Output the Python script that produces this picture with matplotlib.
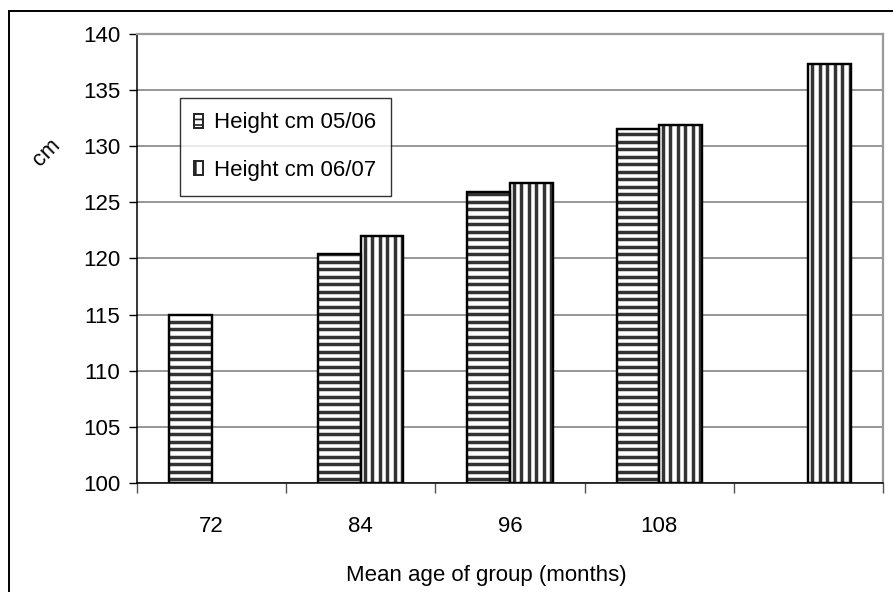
import numpy as np
import matplotlib
matplotlib.use('Agg')
import matplotlib.pyplot as plt
from matplotlib.collections import LineCollection
from matplotlib.patches import Patch, Rectangle

# Mean height per age group, two school years
ages = ['72', '84', '96', '108', '']
height_0506 = np.array([115.0, 120.4, 125.9, 131.5, np.nan])
height_0607 = np.array([np.nan, 122.0, 126.7, 131.9, 137.3])
series_labels = ['Height cm 05/06', 'Height cm 06/07']
y_ticks = np.arange(100, 141, 5)

W, H, DPI = 893, 592, 100
STRIPE_PX = 7.5          # stripe period in pixels
STRIPE_LW = 2.5          # dark stripe width in points
STRIPE_COLOR = '#333333'


def fx(px):
    return px / W


def fy(py):
    return 1 - py / H


plt.rcParams['font.family'] = ['Liberation Sans Narrow', 'Liberation Sans', 'DejaVu Sans']
plt.rcParams['hatch.linewidth'] = 1.2
FS = 16

fig = plt.figure(figsize=(W / DPI, H / DPI), dpi=DPI)
ax_left, ax_right, ax_top, ax_bottom = 137, 883, 33.7, 483
ax = fig.add_axes([fx(ax_left), fy(ax_bottom), fx(ax_right) - fx(ax_left), fy(ax_top) - fy(ax_bottom)])

x = np.arange(len(ages))
bw = 1 / 3.5
base = y_ticks[0]
ax.set_xlim(-0.5, len(ages) - 0.5)
ax.set_ylim(y_ticks[0], y_ticks[-1])

# data units per pixel, for the stripe spacing
dx_px = (len(ages)) / (ax_right - ax_left)
dy_px = (y_ticks[-1] - y_ticks[0]) / (ax_bottom - ax_top)


def striped_bars(xpos, vals, direction):
    ok = ~np.isnan(vals)
    bars = ax.bar(xpos[ok], vals[ok] - base, bottom=base, width=bw, align='edge',
                  color='white', edgecolor='black', linewidth=1.6, zorder=2)
    for b in bars:
        x0, y0 = b.get_x(), b.get_y()
        x1, y1 = x0 + b.get_width(), y0 + b.get_height()
        if direction == 'h':
            step = STRIPE_PX * dy_px
            ys = np.arange(y0 + step * 0.5, y1, step)
            segs = [[(x0, yy), (x1, yy)] for yy in ys]
        else:
            step = STRIPE_PX * dx_px
            xs = np.arange(x0 + step * 0.5, x1, step)
            segs = [[(xx, y0), (xx, y1)] for xx in xs]
        lc = LineCollection(segs, colors=STRIPE_COLOR, linewidths=STRIPE_LW, zorder=2.5)
        ax.add_collection(lc)
        lc.set_clip_path(b)
        # redraw the outline on top of the stripes
        ax.add_patch(Rectangle((x0, y0), x1 - x0, y1 - y0, fill=False,
                               edgecolor='black', linewidth=1.6, zorder=3))


striped_bars(x - bw, height_0506, 'h')
striped_bars(x, height_0607, 'v')

ax.set_yticks(y_ticks)
ax.tick_params(axis='y', direction='out', length=6, width=1, pad=6, labelsize=FS)
ax.yaxis.grid(True, color='#7a7a7a', linewidth=1.1)
ax.set_axisbelow(True)

ax.set_xticks(np.arange(-0.5, len(ages)), labels=[''] * (len(ages) + 1))
ax.set_xticks(x, labels=ages, minor=True)
ax.tick_params(axis='x', which='major', direction='out', length=7, width=1, color='#555555')
ax.tick_params(axis='x', which='minor', length=0, pad=24, labelsize=FS)

for side in ('left', 'bottom'):
    ax.spines[side].set_color('black')
    ax.spines[side].set_linewidth(1.1)
for side in ('top', 'right'):
    ax.spines[side].set_color('#9a9a9a')
    ax.spines[side].set_linewidth(1.6)

handles = [Patch(facecolor='white', edgecolor='#222222', hatch='---', linewidth=1.4),
           Patch(facecolor='white', edgecolor='#222222', hatch='||', linewidth=1.4)]
leg = ax.legend(handles, series_labels, loc='upper left',
                bbox_to_anchor=(fx(180), fy(98)), bbox_transform=fig.transFigure,
                fontsize=FS, frameon=True, fancybox=False, shadow=False,
                borderaxespad=0, borderpad=0.65, labelspacing=1.2,
                handlelength=0.4, handleheight=0.6, handletextpad=0.5)
leg.get_frame().set_edgecolor('black')
leg.get_frame().set_linewidth(1.0)

fig.text(fx(47), fy(153), 'cm', rotation=45, ha='center', va='center', fontsize=FS)
fig.text(fx(486), fy(575), 'Mean age of group (months)', ha='center', va='center', fontsize=FS)

# chart-area border, open towards the right and bottom edges
fig.add_artist(Rectangle((fx(8.5), -0.1), 1.2, fy(11) + 0.1, transform=fig.transFigure,
                         fill=False, edgecolor='black', linewidth=1.4, clip_on=False))

fig.savefig('out.png', dpi=DPI)
